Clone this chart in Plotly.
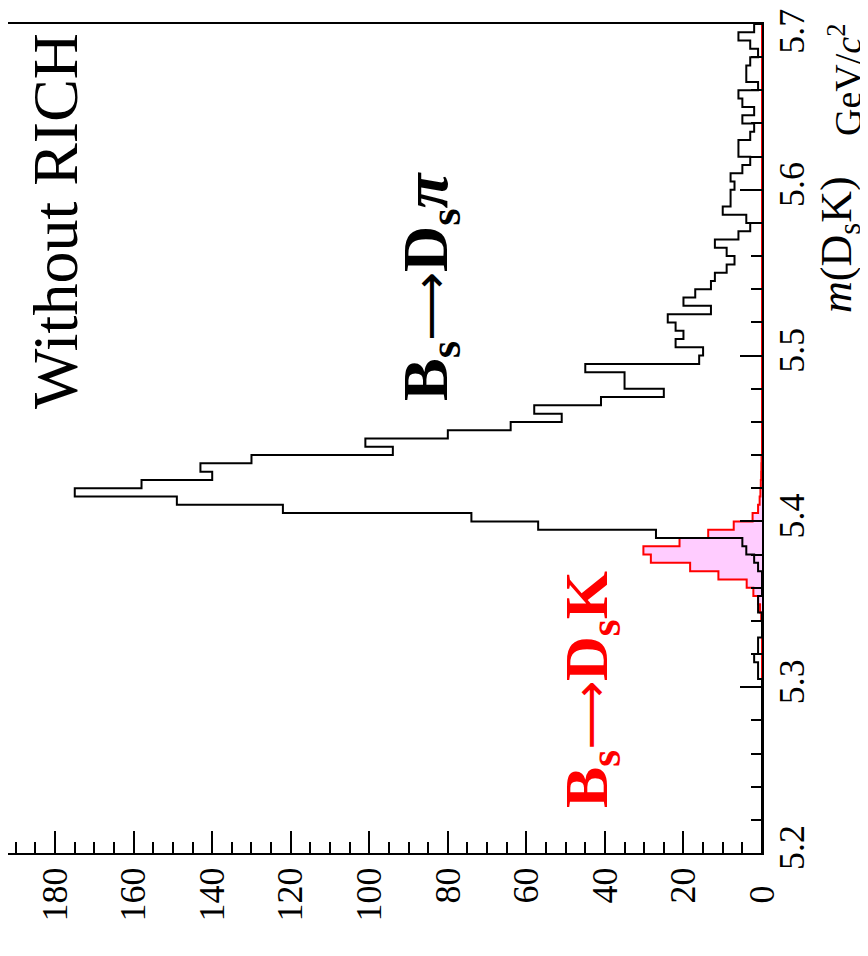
import numpy as np
import plotly.graph_objects as go

# ---- data (100 bins of 5 MeV from 5.2 to 5.7 GeV/c^2) ----
mass_min = 5.2
mass_max = 5.7
n_bins = 100

# Bs -> Ds pi (black outline)
counts_dspi = [
    0, 0, 0, 0, 0, 0, 0, 0, 0, 0,
    0, 0, 0, 0, 0, 0, 0, 0, 0, 0,
    0, 1, 1, 2, 1, 1, 0, 0, 0, 1,
    1, 0, 0, 0, 1, 2, 4, 5, 27, 57,
    74, 122, 149, 175, 158, 140, 143, 130, 94, 101,
    80, 64, 51, 58, 41, 25, 35, 35, 45, 16,
    15, 22, 20, 22, 24, 13, 20, 17, 13, 12,
    9, 7, 9, 12, 6, 3, 4, 10, 8, 8,
    7, 8, 5, 3, 6, 6, 3, 2, 5, 2,
    5, 6, 1, 4, 4, 3, 1, 3, 6, 2,
]

# Bs -> Ds K (red outline, pink fill)
counts_dsk = [
    0, 0, 0, 0, 0, 0, 0, 0, 0, 0,
    0, 0, 0, 0, 0, 0, 0, 0, 0, 0,
    0, 0, 0, 0, 0, 0, 0, 0, 0.2, 0.5,
    1.0, 2.2, 3.9, 11.1, 18.3, 28.3, 30.2, 21.0, 13.7, 7.2,
    2.4, 1.0, 0.6, 0.4, 0.3, 0.2, 0.15, 0.1, 0, 0,
    0, 0, 0, 0, 0, 0, 0, 0, 0, 0,
    0, 0, 0, 0, 0, 0, 0, 0, 0, 0,
    0, 0, 0, 0, 0, 0, 0, 0, 0, 0,
    0, 0, 0, 0, 0, 0, 0, 0, 0, 0,
    0, 0, 0, 0, 0, 0, 0, 0, 0, 0,
]

count_ticks = [0, 20, 40, 60, 80, 100, 120, 140, 160, 180]
count_labels = ["0\u2002", "20", "40", "60", "80", "100", "120", "140", "160", "180"]
mass_ticks = [5.2, 5.3, 5.4, 5.5, 5.6, 5.7]
mass_labels = ["5.2", "5.3", "5.4", "5.5", "5.6", "5.7\u2002\u2009"]
count_max = 192

edges = np.linspace(mass_min, mass_max, n_bins + 1)


def step_xy(counts, edges):
    xs = [0]
    ys = [edges[0]]
    for i, c in enumerate(counts):
        xs.append(c)
        ys.append(edges[i])
    xs.append(counts[-1])
    ys.append(edges[-1])
    xs.append(0)
    ys.append(edges[-1])
    return xs, ys


SERIF = "Liberation Serif, Times New Roman, serif"
ARROW = "<span style='font-family:DejaVu Sans;font-weight:normal;font-size:48px'>⟶</span>"

fig = go.Figure()

xk, yk = step_xy(counts_dsk, edges)
fig.add_trace(go.Scatter(
    x=xk, y=yk, mode="lines", line=dict(color="#ff0000", width=2, shape="vh"),
    fill="tozerox", fillcolor="#ffccff", hoverinfo="skip", showlegend=False,
))

xp, yp = step_xy(counts_dspi, edges)
fig.add_trace(go.Scatter(
    x=xp, y=yp, mode="lines", line=dict(color="#000000", width=2, shape="vh"),
    hoverinfo="skip", showlegend=False,
))

# page body has an 8px margin: figure is 860x948 placed at (8, 8)
W, H = 860, 948
PL, PR, PT, PB = 8, 762, 24, 853   # plot-area edges in page pixels
OFF = 8


def px_x(p):
    return (p - PL) / (PR - PL)


def px_y(p):
    return (PB - p) / (PB - PT)


fig.update_layout(
    width=W, height=H,
    margin=dict(l=PL - OFF, r=W - (PR - OFF), t=PT - OFF, b=H - (PB - OFF), autoexpand=False),
    paper_bgcolor="white", plot_bgcolor="white",
    font=dict(family=SERIF, color="black"),
    xaxis=dict(
        range=[count_max, 0], showgrid=False, zeroline=False, automargin=False,
        showline=True, linecolor="black", linewidth=2, mirror=True,
        ticks="inside", ticklen=22, tickwidth=1.5, tickcolor="black",
        tickmode="array", tickvals=count_ticks, ticktext=count_labels,
        minor=dict(dtick=5, tick0=0, ticks="inside", ticklen=11, tickwidth=1.5, tickcolor="black", showgrid=False),
        tickangle=-90, tickfont=dict(family=SERIF, size=36, color="black"),
        ticklabelstandoff=-2, ticklabeloverflow="allow",
    ),
    yaxis=dict(
        range=[mass_min, mass_max], side="right", showgrid=False, zeroline=False, automargin=False,
        showline=True, linecolor="black", linewidth=2, mirror=True,
        ticks="inside", ticklen=22, tickwidth=1.5, tickcolor="black",
        tickmode="array", tickvals=mass_ticks, ticktext=mass_labels,
        minor=dict(dtick=0.02, tick0=5.2, ticks="inside", ticklen=11, tickwidth=1.5, tickcolor="black", showgrid=False),
        tickangle=-90, tickfont=dict(family=SERIF, size=36, color="black"),
        ticklabelstandoff=-3, ticklabeloverflow="allow",
    ),
)

fig.add_annotation(
    x=px_x(839), y=px_y(244), xref="paper", yref="paper",
    xanchor="center", yanchor="middle", textangle=-90, showarrow=False,
    text="<i>m</i>(D<sub>s</sub>K)",
    font=dict(family=SERIF, size=44, color="black"),
)
fig.add_annotation(
    x=px_x(845), y=px_y(80), xref="paper", yref="paper",
    xanchor="center", yanchor="middle", textangle=-90, showarrow=False,
    text="GeV/<i>c</i><sup>2</sup>",
    font=dict(family=SERIF, size=38, color="black"),
)
fig.add_annotation(
    x=px_x(55), y=px_y(221), xref="paper", yref="paper",
    xanchor="center", yanchor="middle", textangle=-90, showarrow=False,
    text="Without RICH",
    font=dict(family=SERIF, size=64, color="black"),
)
fig.add_annotation(
    x=px_x(430), y=px_y(286), xref="paper", yref="paper",
    xanchor="center", yanchor="middle", textangle=-90, showarrow=False,
    text="<b>B<sub>s</sub></b>" + ARROW + "<b>D<sub>s</sub><i>π</i></b>",
    font=dict(family=SERIF, size=64, color="black"),
)
fig.add_annotation(
    x=px_x(590), y=px_y(690), xref="paper", yref="paper",
    xanchor="center", yanchor="middle", textangle=-90, showarrow=False,
    text="<b>B<sub>s</sub></b>" + ARROW + "<b>D<sub>s</sub>K</b>",
    font=dict(family=SERIF, size=62, color="#ff0000"),
)

fig.write_html("out.html")
